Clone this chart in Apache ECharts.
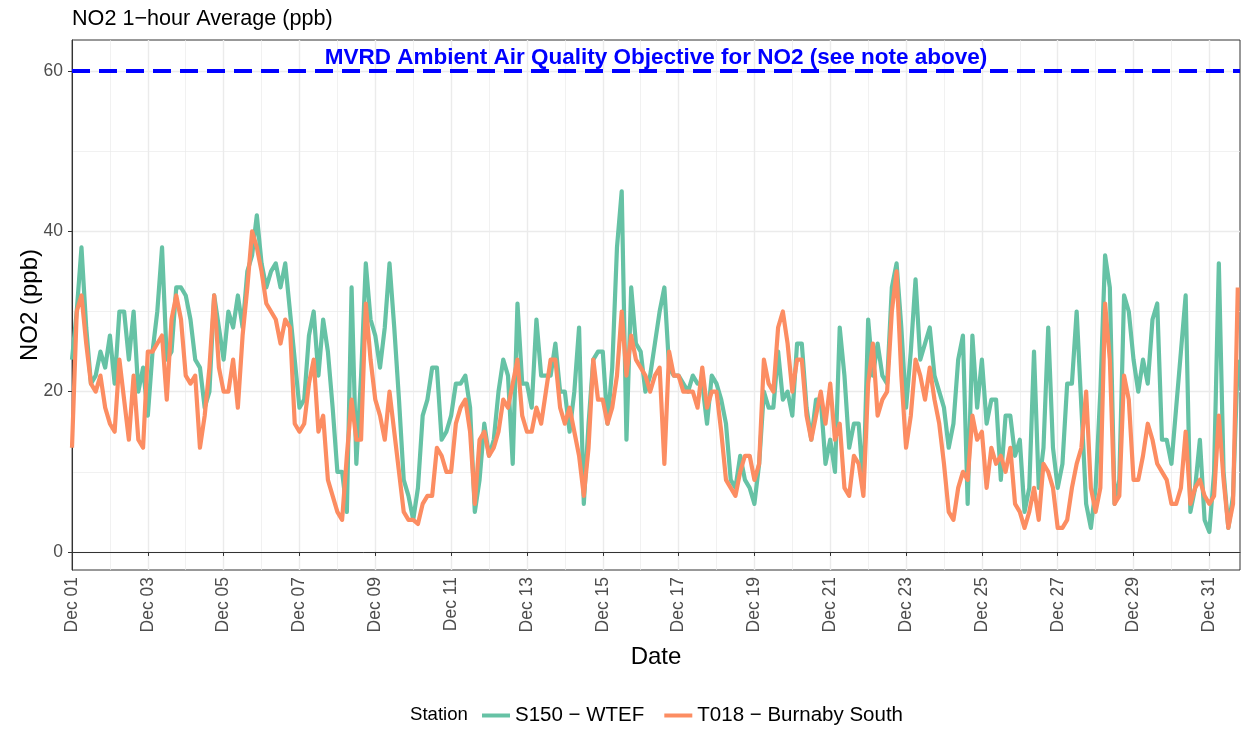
<!DOCTYPE html>
<html><head><meta charset="utf-8">
<script src="https://cdn.jsdelivr.net/npm/echarts@6/dist/echarts.min.js"></script>
<style>html,body{margin:0;padding:0;background:#fff}#c{width:1241px;height:729px}</style>
</head><body><div id="c"></div>
<script>
// Hourly NO2 readings, sampled every 3 hours from Dec 01 00:00
const STEP_HOURS = 3;
const s150 = [
  24,30,38,28,21,22,25,23,
  27,21,30,30,24,30,20,23,
  17,25,30,38,24,25,33,33,
  32,29,24,23,18,20,32,28,
  24,30,28,32,28,35,37,42,
  36,33,35,36,33,36,30,24,
  18,19,27,30,22,29,25,18,
  10,10,5,33,11,22,36,29,
  27,23,28,36,28,19,9,7,
  4,8,17,19,23,23,14,15,
  17,21,21,22,18,5,9,16,
  12,14,20,24,22,11,31,21,
  21,18,29,22,22,22,26,20,
  20,15,20,28,6,16,24,25,
  25,16,23,38,45,14,33,26,
  25,20,22,26,30,33,23,22,
  22,21,20,22,21,21,16,22,
  21,19,16,9,8,12,9,8,
  6,11,20,18,18,25,19,20,
  17,26,26,18,14,19,19,11,
  14,10,28,22,13,16,16,8,
  29,22,26,22,21,33,36,28,
  18,25,34,24,26,28,22,20,
  18,13,16,24,27,6,27,18,
  24,16,19,19,9,17,17,12,
  14,5,8,25,8,13,28,13,
  8,11,21,21,30,18,6,3,
  8,20,37,33,6,9,32,30,
  24,20,24,21,29,31,14,14,
  11,18,25,32,5,8,14,4,
  2.5,10,36,10,3,7,24
];
const t018 = [
  13,30,32,26,21,20,22,18,
  16,15,24,19,14,22,14,13,
  25,25,26,27,19,29,32,29,
  22,21,22,13,17,23,32,23,
  20,20,24,18,27,33,40,38,
  35,31,30,29,26,29,28,16,
  15,16,21,24,15,17,9,7,
  5,4,12,19,14,14,31,24,
  19,17,14,20,15,10,5,4,
  4,3.5,6,7,7,13,12,10,
  10,16,18,19,15,6,14,15,
  12,13,15,19,18,21,24,17,
  15,15,18,16,20,24,24,18,
  16,18,15,12,7,13,24,19,
  19,16,18,22,30,22,27,24,
  23,22,20,22,23,11,25,22,
  22,20,20,20,18,23,18,20,
  20,15,9,8,7,10,12,12,
  9,11,24,21,20,28,30,26,
  20,24,24,17,14,17,20,16,
  21,14,16,8,7,12,11,7,
  21,26,17,19,20,30,35,22,
  13,17,24,22,19,23,19,16,
  11,5,4,8,10,9,17,14,
  15,8,13,11,12,10,13,6,
  5,3,5,8,4,11,10,8,
  3,3,4,8,11,13,20,8,
  5,8,31,24,6,7,22,19,
  9,9,12,16,14,11,10,9,
  6,6,8,15,6,8,9,7,
  6,7,17,9,3,6,33
];
const seriesNames = ['S150 \u2212 WTEF', 'T018 \u2212 Burnaby South'];
const seriesColors = ['#66c2a5', '#fc8d62'];
const majorDayHours = [0,48,96,144,192,240,288,336,384,432,480,528,576,624,672,720]; // Dec 01, 03, ... 31
const minorDayHours = [24,72,120,168,216,264,312,360,408,456,504,552,600,648,696];
const yMajorTicks = [0,20,40,60];
const yMinorTicks = [10,30,50];
const objectiveValue = 60;
const objectiveLabel = 'MVRD Ambient Air Quality Objective for NO2 (see note above)';
const titleText = 'NO2 1\u2212hour Average (ppb)';

const X_MAX = 739.4, Y_MIN = -2.25, Y_MAX = 63.87;
const FONT = 'Liberation Sans, Arial, sans-serif';
const pad2 = n => (n < 10 ? '0' : '') + n;
const toPairs = arr => arr.map((v, i) => [i * STEP_HOURS, v]);

const chart = echarts.init(document.getElementById('c'), null, {renderer: 'canvas'});
chart.setOption({
  animation: false,
  textStyle: {fontFamily: FONT},
  title: {text: titleText, left: 67, top: 3,
    textStyle: {fontSize: 21.6, fontWeight: 'normal', color: '#000', fontFamily: FONT}},
  grid: {left: 72, right: 1, top: 40, bottom: 159, show: true, borderColor: '#333', borderWidth: 1, backgroundColor: 'transparent'},
  graphic: [{type: 'text', left: 410, top: 705,
    style: {text: 'Station', fontSize: 18.6, fill: '#000', fontFamily: FONT}}],
  legend: {left: 477, top: 700, itemWidth: 28, itemHeight: 4, itemGap: 20, icon: 'rect',
    textStyle: {fontSize: 20.5, color: '#000', fontFamily: FONT}, data: seriesNames},
  xAxis: [{
    type: 'value', min: 0, max: X_MAX, interval: 48,
    axisLine: {show: true, lineStyle: {color: '#333', width: 1}},
    axisTick: {show: true, length: 4, lineStyle: {color: '#333'}, customValues: majorDayHours},
    axisLabel: {customValues: majorDayHours, rotate: 90, margin: 7, fontSize: 17.5, color: '#4d4d4d', fontFamily: FONT,
      formatter: v => (v % 48 === 0 && v <= 720) ? 'Dec ' + pad2(v / 24 + 1) : ''},
    splitLine: {show: true, lineStyle: {color: '#ebebeb', width: 1.4}},
    name: 'Date', nameLocation: 'middle', nameGap: 75, nameMoveOverlap: false,
    nameTextStyle: {fontSize: 24, color: '#000', fontFamily: FONT}
  }, {
    type: 'value', min: 0, max: X_MAX, position: 'bottom',
    axisLine: {show: false}, axisLabel: {show: false, customValues: minorDayHours},
    axisTick: {show: false, customValues: minorDayHours},
    splitLine: {show: true, lineStyle: {color: '#ebebeb', width: 0.7}}
  }],
  yAxis: [{
    type: 'value', min: Y_MIN, max: Y_MAX,
    axisLine: {show: true, lineStyle: {color: '#333', width: 1}},
    axisTick: {show: true, length: 4, lineStyle: {color: '#333'}, customValues: yMajorTicks},
    axisLabel: {customValues: yMajorTicks, margin: 9, fontSize: 17.5, color: '#4d4d4d', fontFamily: FONT},
    splitLine: {show: true, lineStyle: {color: '#ebebeb', width: 1.4}},
    name: 'NO2 (ppb)', nameLocation: 'middle', nameGap: 30, nameRotate: 90, nameMoveOverlap: false,
    nameTextStyle: {fontSize: 24, color: '#000', fontFamily: FONT}
  }, {
    type: 'value', min: Y_MIN, max: Y_MAX, position: 'left',
    axisLine: {show: false}, axisLabel: {show: false, customValues: yMinorTicks},
    axisTick: {show: false, customValues: yMinorTicks},
    splitLine: {show: true, lineStyle: {color: '#ebebeb', width: 0.7}}
  }],
  series: [
    {name: seriesNames[0], type: 'line', xAxisIndex: 0, yAxisIndex: 0, data: toPairs(s150),
     showSymbol: false, symbol: 'none', color: seriesColors[0],
     lineStyle: {width: 4.2, color: seriesColors[0], join: 'round'}, z: 3,
     markLine: {silent: true, symbol: 'none', data: [{yAxis: objectiveValue}],
       lineStyle: {color: '#0000ff', width: 4, type: [18, 9]},
       label: {show: true, position: 'insideMiddleTop', formatter: objectiveLabel, color: '#0000ff',
         fontWeight: 'bold', fontSize: 22.5, fontFamily: FONT, distance: 2}}},
    {name: seriesNames[1], type: 'line', xAxisIndex: 0, yAxisIndex: 0, data: toPairs(t018),
     showSymbol: false, symbol: 'none', color: seriesColors[1],
     lineStyle: {width: 4.2, color: seriesColors[1], join: 'round'}, z: 4}
  ]
});
</script></body></html>
